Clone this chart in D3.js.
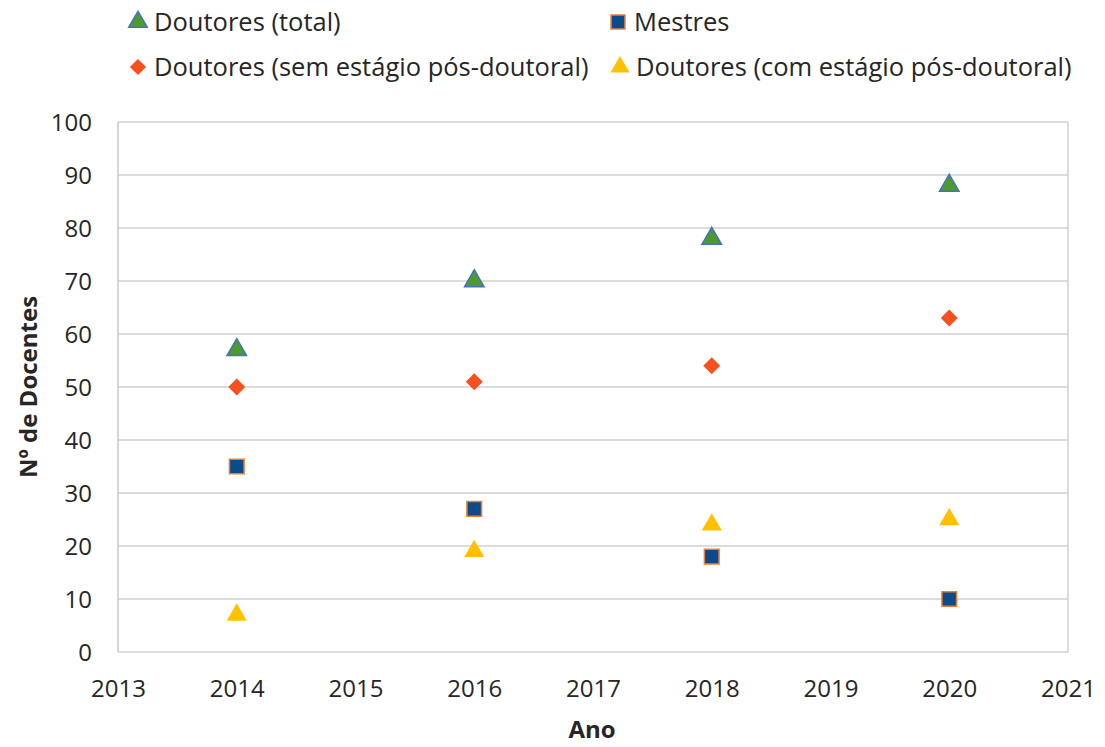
<!DOCTYPE html>
<html>
<head>
<meta charset="utf-8">
<script src="https://cdn.jsdelivr.net/npm/d3@7"></script>
<style>
  body { margin: 0; background: #fff; }
  text { font-family: "Open Sans", "Noto Sans", sans-serif; fill: #262626; }
</style>
</head>
<body>
<div id="chart"></div>
<script>
// dados
var anos = [2014, 2016, 2018, 2020];
var doutoresTotal = [57, 70, 78, 88];
var doutoresSem = [50, 51, 54, 63];
var mestres = [35, 27, 18, 10];
var doutoresCom = [7, 19, 24, 25];
var xTicks = [2013, 2014, 2015, 2016, 2017, 2018, 2019, 2020, 2021];
var yTicks = [0, 10, 20, 30, 40, 50, 60, 70, 80, 90, 100];

var W = 1105, H = 747;
var margin = { top: 122, right: 37, bottom: 95, left: 118 },
    width = W - margin.left - margin.right,
    height = H - margin.top - margin.bottom;

var svg = d3.select("#chart").append("svg")
    .attr("width", W).attr("height", H);
var g = svg.append("g")
    .attr("transform", "translate(" + margin.left + "," + margin.top + ")");

var x = d3.scaleLinear().domain([2013, 2021]).range([0, width]);
var y = d3.scaleLinear().domain([0, 100]).range([height, 0]);

// grade horizontal
g.selectAll(".grid").data(yTicks).enter().append("line")
    .attr("x1", 0).attr("x2", width)
    .attr("y1", function(d) { return y(d); })
    .attr("y2", function(d) { return y(d); })
    .style("stroke", "#d0d0d0").style("stroke-width", 1.5);

// bordas esquerda e direita
g.append("line").attr("x1", 0).attr("x2", 0).attr("y1", 0).attr("y2", height)
    .style("stroke", "#c8c8c8").style("stroke-width", 1.5);
g.append("line").attr("x1", width).attr("x2", width).attr("y1", 0).attr("y2", height)
    .style("stroke", "#d0d0d0").style("stroke-width", 1.5);

// eixos
var yAxis = g.append("g").call(d3.axisLeft(y).tickValues(yTicks).tickSize(0).tickPadding(26));
yAxis.select(".domain").remove();
yAxis.selectAll("text").style("font-size", "24px").attr("dy", "0.35em");

var xAxis = g.append("g").attr("transform", "translate(0," + height + ")")
    .call(d3.axisBottom(x).tickValues(xTicks).tickFormat(d3.format("d")).tickSize(0).tickPadding(28));
xAxis.select(".domain").remove();
xAxis.selectAll("text").style("font-size", "24px");

// títulos dos eixos
svg.append("text")
    .attr("transform", "translate(37," + (margin.top + height / 2) + ") rotate(-90)")
    .attr("text-anchor", "middle")
    .style("font-size", "24px").style("font-weight", "bold")
    .text("Nº de Docentes");
svg.append("text")
    .attr("x", margin.left + width / 2 - 1).attr("y", 738)
    .attr("text-anchor", "middle")
    .style("font-size", "24px").style("font-weight", "bold")
    .text("Ano");

var series = [
  { name: "Doutores (total)", values: doutoresTotal, symbol: d3.symbolTriangle, size: 165, fill: "#4e9a2a", stroke: "#4472c4", sw: 1.5 },
  { name: "Mestres", values: mestres, symbol: d3.symbolSquare, size: 215, fill: "#0b4a8b", stroke: "#ed7d31", sw: 1.5 },
  { name: "Doutores (sem estágio pós-doutoral)", values: doutoresSem, symbol: d3.symbolDiamond2, size: 185, fill: "#f4511e", stroke: "none", sw: 0 },
  { name: "Doutores (com estágio pós-doutoral)", values: doutoresCom, symbol: d3.symbolTriangle, size: 175, fill: "#ffc000", stroke: "none", sw: 0 }
];

series.forEach(function(s) {
  g.selectAll(null).data(anos).enter().append("path")
      .attr("d", d3.symbol().type(s.symbol).size(s.size))
      .attr("transform", function(d, i) { return "translate(" + x(d) + "," + y(s.values[i]) + ")"; })
      .style("fill", s.fill).style("stroke", s.stroke).style("stroke-width", s.sw);
});

// legenda
var legPos = [[138, 22], [618, 22], [138, 67], [620, 67]];
series.forEach(function(s, i) {
  var lg = svg.append("g").attr("transform", "translate(" + legPos[i][0] + "," + legPos[i][1] + ")");
  lg.append("path")
      .attr("d", d3.symbol().type(s.symbol).size(s.size * 0.9))
      .style("fill", s.fill).style("stroke", s.stroke).style("stroke-width", s.sw);
  lg.append("text").attr("x", 16).attr("dy", "0.35em")
      .style("font-size", "25.5px").text(s.name);
});
</script>
</body>
</html>
